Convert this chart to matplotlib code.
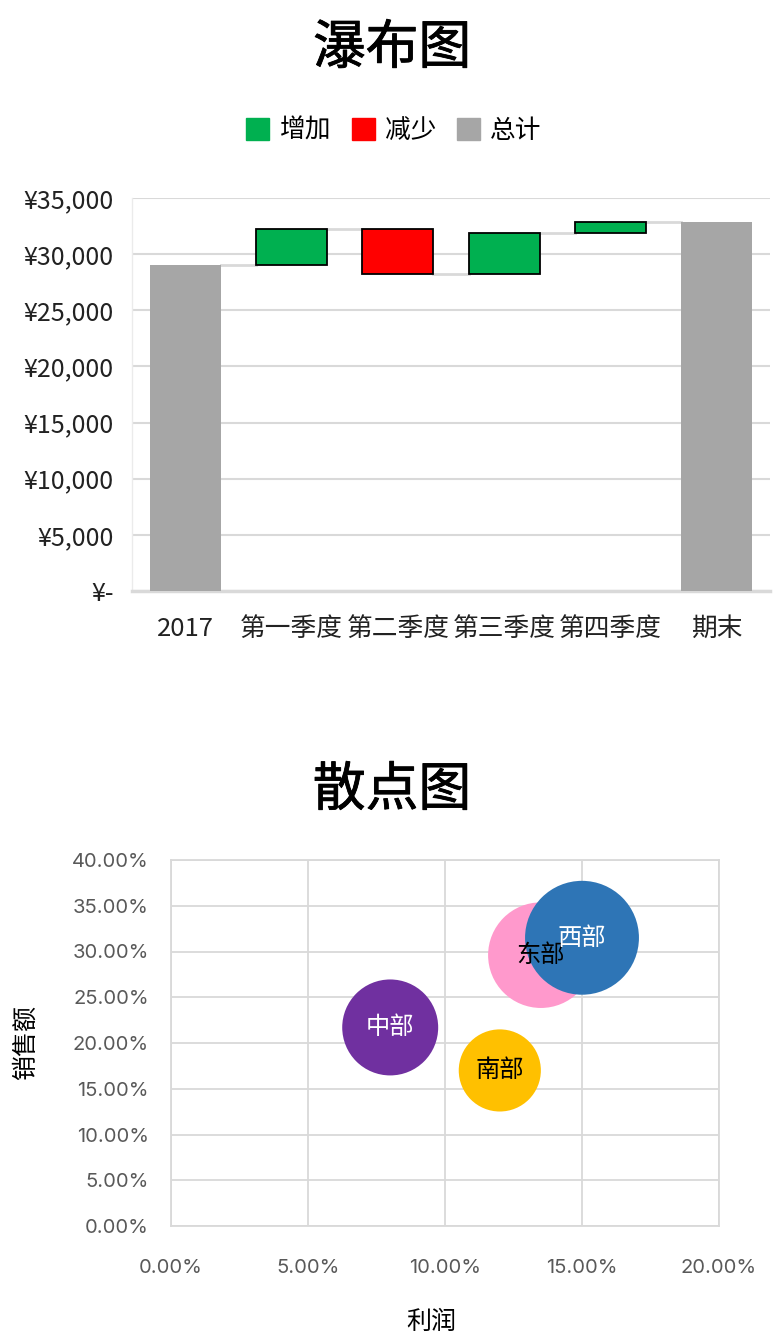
import matplotlib
matplotlib.use("Agg")
import matplotlib.pyplot as plt
import matplotlib.patheffects as pe
from matplotlib.patches import Patch
from matplotlib.ticker import FuncFormatter

plt.rcParams["font.family"] = ["Noto Sans CJK SC", "DejaVu Sans"]

# waterfall data
wf_labels = ["2017", "第一季度", "第二季度", "第三季度", "第四季度", "期末"]
wf_start = 29000
wf_changes = [3200, -4000, 3700, 1000]
wf_yticks = [0, 5000, 10000, 15000, 20000, 25000, 30000, 35000]

# bubble data
regions = ["中部", "南部", "东部", "西部"]
profit = [0.080, 0.120, 0.135, 0.150]
sales = [0.217, 0.170, 0.296, 0.315]
bubble_size = [71, 52, 86, 100]
bubble_colors = ["#7030A0", "#FFC000", "#FF99CC", "#2E75B6"]
label_colors = ["white", "black", "black", "white"]

GREEN = "#00B050"
RED = "#FF0000"
GRAY = "#A6A6A6"
GRID = "#D9D9D9"

W, H = 784, 1337
fig = plt.figure(figsize=(W / 100, H / 100), dpi=100)
title_fx = [pe.withStroke(linewidth=0.6, foreground="black")]


def px_axes(left, top, right, bottom):
    return fig.add_axes([left / W, 1 - bottom / H, (right - left) / W, (bottom - top) / H])


# ---- waterfall ----
fig.text(392 / W, 1 - 48 / H, "瀑布图", ha="center", va="center", fontsize=38,
         path_effects=title_fx)

ax = px_axes(132, 198, 770, 591)
n = len(wf_labels)
width = 0.67
level = wf_start
tops = [wf_start]
ax.bar(0, wf_start, width, color=GRAY, zorder=3)
for i, ch in enumerate(wf_changes, start=1):
    base = level if ch > 0 else level + ch
    ax.bar(i, abs(ch), width, bottom=base, color=GREEN if ch > 0 else RED,
           edgecolor="black", linewidth=1.3, zorder=3)
    level += ch
    tops.append(level)
ax.bar(n - 1, level, width, color=GRAY, zorder=3)
tops.append(level)

# connectors
for i in range(n - 1):
    lvl = tops[i]
    ax.plot([i + width / 2, i + 1 - width / 2], [lvl, lvl], color=GRID, lw=2, zorder=2)

ax.set_xlim(-0.5, n - 0.5)
ax.set_ylim(0, 35000)
ax.set_yticks(wf_yticks)
ax.yaxis.set_major_formatter(FuncFormatter(lambda v, p: "¥-" if v == 0 else f"¥{v:,.0f}"))
ax.set_xticks(range(n))
ax.set_xticklabels(wf_labels)
ax.tick_params(axis="both", length=0, colors="#222222")
ax.tick_params(axis="y", labelsize=18, pad=13)
ax.tick_params(axis="x", labelsize=18.5, pad=18)
ax.grid(axis="y", color=GRID, lw=1.5, zorder=0)
for s in ["top", "right"]:
    ax.spines[s].set_visible(False)
ax.spines["left"].set_color("#EBEBEB")
ax.spines["left"].set_linewidth(1)
ax.spines["bottom"].set_color(GRID)
ax.spines["bottom"].set_linewidth(2.5)

handles = [Patch(color=GREEN, label="增加"), Patch(color=RED, label="减少"), Patch(color=GRAY, label="总计")]
fig.legend(handles=handles, loc="center", bbox_to_anchor=(394 / W, 1 - 131 / H), ncol=3,
           frameon=False, fontsize=18.5, handlelength=0.9, handleheight=0.9,
           handletextpad=0.4, columnspacing=0.8)

# ---- bubble chart ----
fig.text(392 / W, 1 - 790 / H, "散点图", ha="center", va="center", fontsize=38,
         path_effects=title_fx)

bx = px_axes(171, 860, 719, 1226)
k = 67.24
for i in range(len(regions)):
    bx.scatter(profit[i], sales[i], s=bubble_size[i] * k, color=bubble_colors[i],
               edgecolors="none", zorder=3)
for i in range(len(regions)):
    bx.text(profit[i], sales[i], regions[i], ha="center", va="center",
            fontsize=17.5, color=label_colors[i], zorder=5)

bx.set_xlim(0, 0.20)
bx.set_ylim(0, 0.40)
bx.set_xticks([0, 0.05, 0.10, 0.15, 0.20])
bx.set_yticks([i * 0.05 for i in range(9)])
bx.xaxis.set_major_formatter(FuncFormatter(lambda v, p: f"{v * 100:.2f}%"))
bx.yaxis.set_major_formatter(FuncFormatter(lambda v, p: f"{v * 100:.2f}%"))
bx.tick_params(axis="both", length=0, labelsize=14.5, colors="#595959")
for lab in bx.get_xticklabels() + bx.get_yticklabels():
    lab.set_family(["Inter", "DejaVu Sans"])
bx.tick_params(axis="x", pad=24)
bx.tick_params(axis="y", pad=16)
bx.grid(True, color=GRID, lw=1.3, zorder=0)
for s in bx.spines.values():
    s.set_color(GRID)
    s.set_linewidth(1.3)
bx.set_xlabel("利润", fontsize=18)
bx.xaxis.set_label_coords((431 - 171) / (719 - 171), -(1322 - 1226) / (1226 - 860), transform=bx.transAxes)
bx.xaxis.label.set_va("center")
bx.set_ylabel("销售额", fontsize=18, labelpad=24)

fig.savefig("out.png", dpi=100)
